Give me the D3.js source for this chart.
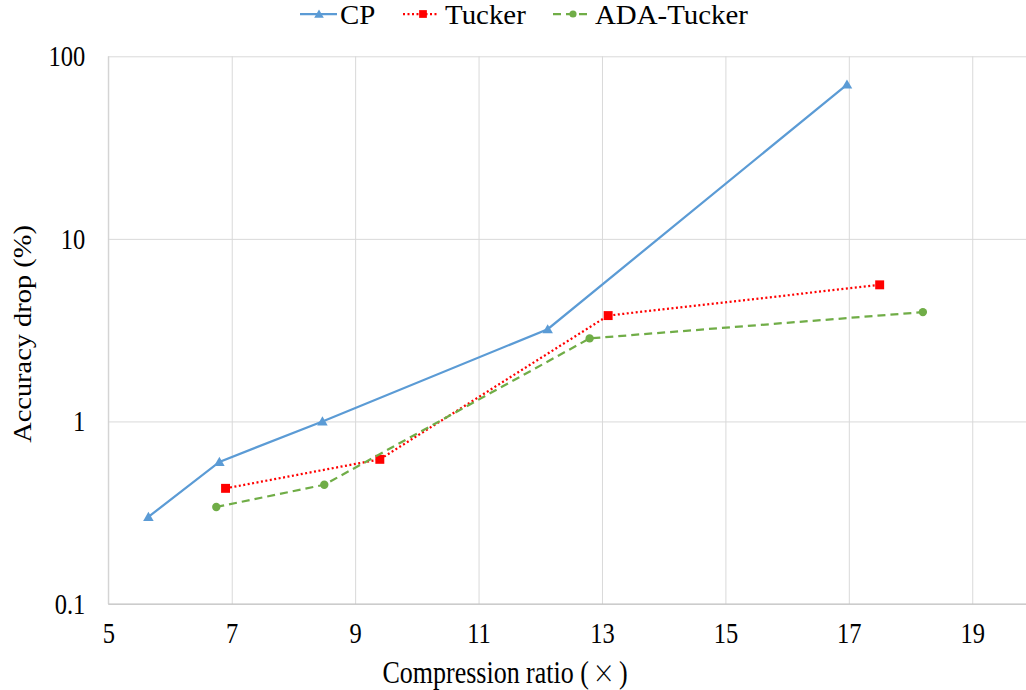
<!DOCTYPE html>
<html>
<head>
<meta charset="utf-8">
<script src="https://cdn.jsdelivr.net/npm/d3@7"></script>
<style>
  html, body { margin: 0; padding: 0; background: #fff; }
  svg { display: block; }
  svg text { font-family: "Liberation Serif", Tinos, "Times New Roman", serif; }
</style>
</head>
<body>
<div id="chart"></div>
<script>
// values
const seriesNames = ['CP', 'Tucker', 'ADA-Tucker'];
const cpX = [5.65, 6.8, 8.47, 12.12, 16.97];
const cpY = [0.3, 0.6, 1.0, 3.2, 70];
const tuckerX = [6.9, 9.4, 13.1, 17.5];
const tuckerY = [0.43, 0.62, 3.8, 5.6];
const adaX = [6.75, 8.5, 12.8, 18.2];
const adaY = [0.34, 0.45, 2.85, 3.97];
const xTicks = [5, 7, 9, 11, 13, 15, 17, 19];
const yTicks = [0.1, 1, 10, 100];

const W = 1026, H = 690;
const plotLeft = 108.3, plotTop = 56.3, plotBottom = 604;

const x = d3.scaleLinear().domain([5, 20]).range([plotLeft, plotLeft + 15 * 61.71]);
const y = d3.scaleLog().domain([0.1, 100]).range([plotBottom, plotTop]);

const svg = d3.select('#chart').append('svg')
  .attr('width', W)
  .attr('height', H);

const series = [
  { name: seriesNames[0], xs: cpX, ys: cpY, color: '#5B9BD5', dash: null, marker: 'triangle' },
  { name: seriesNames[1], xs: tuckerX, ys: tuckerY, color: '#FF0000', dash: '2,2.5', marker: 'square' },
  { name: seriesNames[2], xs: adaX, ys: adaY, color: '#70AD47', dash: '8,5', marker: 'circle' },
];

// grid
svg.append('g')
  .attr('transform', `translate(0,${plotBottom})`)
  .call(d3.axisBottom(x).tickValues(xTicks).tickSize(-(plotBottom - plotTop)).tickFormat(''))
  .call(g => g.select('.domain').remove())
  .call(g => g.selectAll('line').attr('stroke', '#D9D9D9').attr('stroke-width', 1));

svg.append('g')
  .attr('transform', `translate(${plotLeft},0)`)
  .call(d3.axisLeft(y).tickValues(yTicks).tickSize(-(W - plotLeft)).tickFormat(''))
  .call(g => g.select('.domain').remove())
  .call(g => g.selectAll('line').attr('stroke', '#D9D9D9').attr('stroke-width', 1));

// axis lines
svg.append('line')
  .attr('x1', plotLeft).attr('x2', W).attr('y1', plotBottom).attr('y2', plotBottom)
  .attr('stroke', '#BFBFBF').attr('stroke-width', 1.2);
svg.append('line')
  .attr('x1', plotLeft).attr('x2', plotLeft).attr('y1', plotTop).attr('y2', plotBottom)
  .attr('stroke', '#D0D0D0').attr('stroke-width', 1);

// tick labels
const xAxis = svg.append('g')
  .attr('transform', `translate(0,${plotBottom})`)
  .call(d3.axisBottom(x).tickValues(xTicks).tickSize(0).tickPadding(0).tickFormat(d => d))
  .call(g => g.select('.domain').remove());
xAxis.attr('font-family', null);
xAxis.selectAll('text')
  .attr('font-size', 24.5)
  .attr('fill', '#000')
  .attr('dy', null)
  .attr('y', 0)
  .attr('transform', 'translate(0,39) scale(1,1.17)');

const yAxis = svg.append('g')
  .attr('transform', `translate(${plotLeft},0)`)
  .call(d3.axisLeft(y).tickValues(yTicks).tickSize(0).tickPadding(0).tickFormat(d => d))
  .call(g => g.select('.domain').remove());
yAxis.attr('font-family', null);
yAxis.selectAll('text')
  .attr('font-size', 24.5)
  .attr('fill', '#000')
  .attr('dy', null)
  .attr('x', 0)
  .attr('transform', 'translate(-23,9.5) scale(1,1.17)');

// axis titles
svg.append('text')
  .attr('transform', 'translate(505,683) scale(1,1.18)')
  .attr('text-anchor', 'middle')
  .attr('font-size', 26)
  .attr('fill', '#000')
  .text('Compression ratio (')
  .call(t => t.append('tspan')
    .attr('dx', 4)
    .attr('font-size', 22)
    .style('font-family', '"Noto Sans CJK SC"')
    .attr('font-weight', 300)
    .text('×'))
  .call(t => t.append('tspan').attr('dx', 4).text(')'));

svg.append('text')
  .attr('transform', 'translate(31,334) rotate(-90) scale(1.16,1.06)')
  .attr('text-anchor', 'middle')
  .attr('font-size', 24.5)
  .attr('fill', '#000')
  .text('Accuracy drop (%)');

const symbolFor = (m, s) => {
  if (m === 'triangle') return d3.symbol().type(d3.symbolTriangle).size(s || 48)();
  if (m === 'square') return d3.symbol().type(d3.symbolSquare).size(s || 80)();
  return d3.symbol().type(d3.symbolCircle).size(s || 55)();
};

const line = d3.line().x(d => x(d[0])).y(d => y(d[1]));

series.forEach(s => {
  const pts = s.xs.map((v, i) => [v, s.ys[i]]);
  svg.append('path')
    .datum(pts)
    .attr('d', line)
    .attr('fill', 'none')
    .attr('stroke', s.color)
    .attr('stroke-width', 2.25)
    .attr('stroke-dasharray', s.dash);
  svg.append('g')
    .selectAll('path')
    .data(pts)
    .join('path')
      .attr('transform', d => `translate(${x(d[0])},${y(d[1]) + (s.marker === 'triangle' ? 1 : 0)})`)
      .attr('d', symbolFor(s.marker))
      .attr('fill', s.color);
});

// legend
const legendPos = [
  { x1: 300, x2: 337, mx: 319, tx: 340 },
  { x1: 403, x2: 437, mx: 423, tx: 445 },
  { x1: 553, x2: 592, mx: 573, tx: 595 },
];
const legend = svg.append('g').attr('transform', 'translate(0,14)');
series.forEach((s, i) => {
  const p = legendPos[i];
  legend.append('line')
    .attr('x1', p.x1).attr('x2', p.x2)
    .attr('stroke', s.color)
    .attr('stroke-width', 2.25)
    .attr('stroke-dasharray', s.dash);
  legend.append('path')
    .attr('transform', `translate(${p.mx},${s.marker === 'triangle' ? 1 : 0})`)
    .attr('d', symbolFor(s.marker, s.marker === 'square' ? 60 : 40))
    .attr('fill', s.color);
  legend.append('text')
    .attr('transform', `translate(${p.tx},10) scale(1.07,1)`)
    .attr('font-size', 27)
    .attr('fill', '#000')
    .text(s.name);
});
</script>
</body>
</html>
